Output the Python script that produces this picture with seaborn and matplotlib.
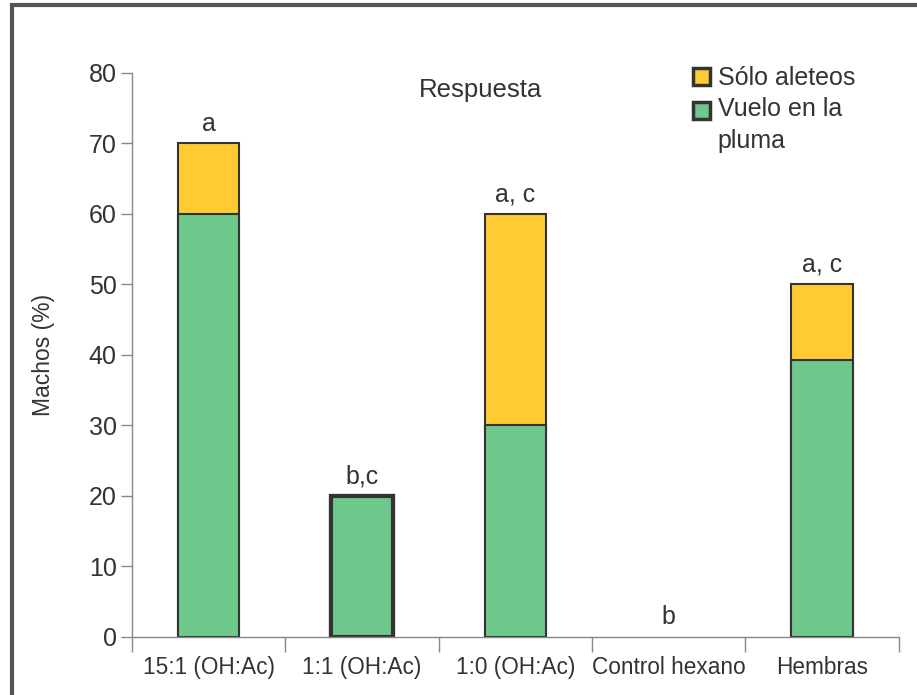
import matplotlib
matplotlib.use("Agg")
import matplotlib.pyplot as plt
from matplotlib.patches import Patch, Rectangle
from matplotlib.legend_handler import HandlerPatch
import numpy as np
import pandas as pd
import seaborn as sns

# data
categories = ["15:1 (OH:Ac)", "1:1 (OH:Ac)", "1:0 (OH:Ac)", "Control hexano", "Hembras"]
vuelo = [60, 20, 30, 0, 39.3]
aleteos = [10, 0, 30, 0, 10.7]
letters = ["a", "b,c", "a, c", "b", "a, c"]

YELLOW = "#FECB33"
GREEN = "#6EC78B"
EDGE = "#333333"
TXT = "#333333"
FS = 18
LEG_LS = 1.43

df = pd.DataFrame({"cat": categories, "vuelo": vuelo, "aleteos": aleteos})
df["total"] = df["vuelo"] + df["aleteos"]

sns.set_style("white")
plt.rcParams["font.family"] = ["Liberation Sans", "DejaVu Sans"]

fig = plt.figure(figsize=(9.17, 6.95), dpi=100)
ax = fig.add_axes([0.144, 0.0835, 0.836, 0.8115])

sns.barplot(data=df, x="cat", y="total", color=YELLOW, width=0.4,
            edgecolor=EDGE, linewidth=1.5, saturation=1, ax=ax)
sns.barplot(data=df, x="cat", y="vuelo", color=GREEN, width=0.4,
            edgecolor=EDGE, linewidth=1.5, saturation=1, ax=ax)

for p in ax.patches:
    if p.get_height() == 0:
        p.set_linewidth(0)
# the 1:1 bar has a heavier outline
ax.patches[len(categories) + 1].set_linewidth(3)
ax.patches[1].set_linewidth(3)

for i, (t, lab) in enumerate(zip(df["total"], letters)):
    ax.text(i, t + 1.1, lab, ha="center", va="bottom", fontsize=18, color=TXT)

ax.set_xlim(-0.5, len(categories) - 0.5)
ax.set_ylim(0, 80)
ax.set_yticks(range(0, 81, 10))
ax.set_xticks(np.arange(-0.5, len(categories), 1.0))
ax.set_xticklabels([])
ax.set_xticks(range(len(categories)), minor=True)
ax.set_xticklabels(categories, minor=True, fontsize=16.3, color=TXT)
ax.tick_params(axis="x", which="major", direction="out", length=11, width=1, color="#888888", bottom=True)
ax.tick_params(axis="x", which="minor", length=0, pad=14)
ax.tick_params(axis="y", direction="out", length=8, width=1, color="#888888", left=True,
               labelsize=18, labelcolor=TXT, pad=3)
ax.set_xlabel("")
ax.set_ylabel("Machos (%)", fontsize=16.5, color=TXT, labelpad=24)

for s in ["top", "right"]:
    ax.spines[s].set_visible(False)
for s in ["left", "bottom"]:
    ax.spines[s].set_color("#888888")
    ax.spines[s].set_linewidth(1)

ax.text(1.77, 77.6, "Respuesta", ha="center", va="center", fontsize=18.5, color=TXT)


def box_first_line(legend, orig_handle, xdescent, ydescent, width, height, fontsize):
    # legend centres the swatch on a multi-line label; lift it to the first line
    n = orig_handle.get_label().count("\n")
    shift = 0.5 * n * 0.87 * fontsize * LEG_LS
    return Rectangle((-xdescent, -ydescent + shift), width, height)


handles = [Patch(facecolor=YELLOW, edgecolor=EDGE, linewidth=2.5, label="Sólo aleteos"),
           Patch(facecolor=GREEN, edgecolor=EDGE, linewidth=2.5, label="Vuelo en la\npluma")]
leg = ax.legend(handles=handles, loc="upper left", bbox_to_anchor=(693 / 917, 1 - 66 / 695),
                bbox_transform=fig.transFigure, frameon=False,
                fontsize=FS, handlelength=0.68, handleheight=0.68, handletextpad=0.3,
                labelspacing=0.29, borderaxespad=0, borderpad=0,
                handler_map={Patch: HandlerPatch(patch_func=box_first_line)})
for t in leg.get_texts():
    t.set_color(TXT)
    t.set_linespacing(LEG_LS)

# border around the figure panel
fig.patches.append(Rectangle((12 / 917, -0.1), 1.2, 1.1 - 5 / 695, transform=fig.transFigure,
                             fill=False, linewidth=3, edgecolor="#555555"))

fig.savefig("out.png", dpi=100)
